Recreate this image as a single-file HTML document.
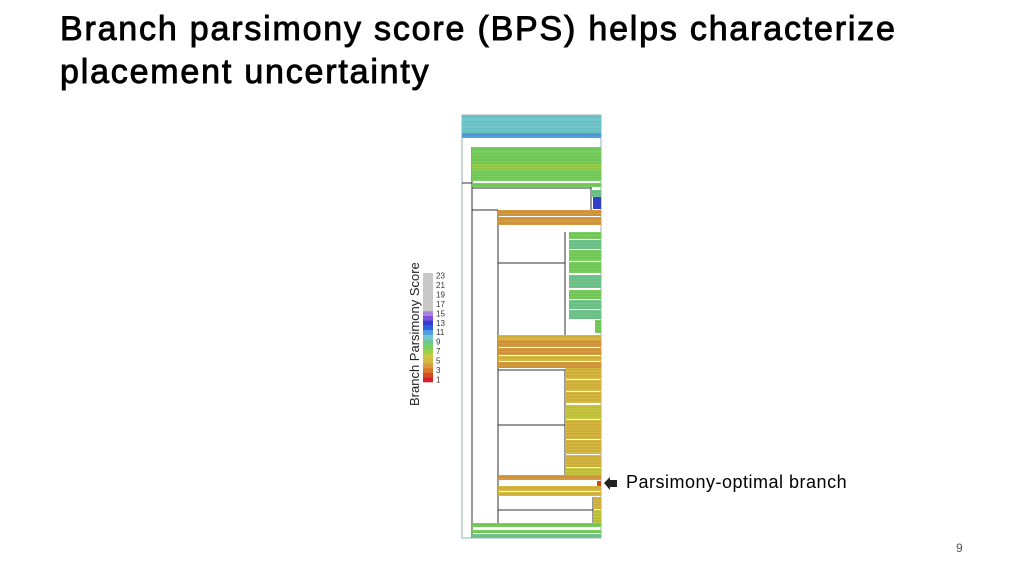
<!DOCTYPE html>
<html><head><meta charset="utf-8"><style>
body{margin:0;width:1024px;height:576px;background:#fff;overflow:hidden;font-family:"Liberation Sans",sans-serif}
h1{position:absolute;left:60px;top:8px;margin:0;font-size:34px;font-weight:normal;line-height:43px;letter-spacing:1.8px;color:#000;-webkit-text-stroke:0.9px #000}
#pn{position:absolute;left:956px;top:541px;font-size:12px;color:#555}
#lab{position:absolute;left:626px;top:472px;font-size:18px;color:#000;letter-spacing:0.5px}
</style></head><body>
<h1>Branch parsimony score (BPS) helps characterize<br>placement uncertainty</h1>
<div id="lab">Parsimony-optimal branch</div>
<div id="pn">9</div>
<svg id="s" width="1024" height="576" style="position:absolute;left:0;top:0"></svg>
<script>
// bands: y0, y1, x0 (start of colored band), score
const bandY0=[115,120,127,133,147,152,158,164,170,176,183,190,197,210,217,221,232,240,250,262,275,290,300,310,320,335,340,348,356,362,368,380,392,405,420,440,455,468,475,481,486,492,497,510,523,530,534];
const bandY1=[119,126,132,137,151,157,163,169,175,180,186,196,208,215,220,224,238,248,260,272,287,298,308,318,332,339,346,354,360,367,378,390,402,418,438,453,466,474,479,485,490,495,508,522,526,532,537];
const bandX0=[462,462,462,462,472,472,472,472,472,472,472,591,593,498,498,498,569,569,569,569,569,569,569,569,595,498,498,498,498,498,565,565,565,565,565,565,565,565,498,597,498,498,593,593,472,472,472];
const bandScore=[10,10,10,11,8,8,8,7,8,8,8,9,13,4,4,4,8,9,8,8,9,8,9,9,8,5,4,4,5,4,5,5,5,6,5,5,5,6,4,2,5,5,5,6,8,8,9];
const legendTicks=[23,21,19,17,15,13,11,9,7,5,3,1];
function color(s){
  if(s>=16) return '#c8c8c8';
  const c=['#d8202a','#d84a20','#d87a2a','#d89a40','#d8b840','#c8c840','#98d048','#78d060','#70c890','#70c8d0','#50a0e0','#3060e0','#3040d0','#8050e0','#b080e0'];
  return c[Math.max(0,Math.min(14,s-1))];
}
const svg=document.getElementById('s');const NS='http://www.w3.org/2000/svg';
function el(t,a){const e=document.createElementNS(NS,t);for(const k in a)e.setAttribute(k,a[k]);svg.appendChild(e);return e;}
let r=el('rect',{x:462,y:115,width:139,height:423,fill:'#fff',stroke:'#9ab',"stroke-width":1});


const skel=[[462,183,472,183],[472,147,472,538],[472,210,498,210],[498,210,498,525],[498,263,565,263],[565,232,565,335],[498,370,565,370],[565,370,565,475],[498,425,565,425],[472,525,601,525],[498,510,593,510],[593,497,593,523],[472,188,591,188],[591,183,591,210]];
skel.forEach(l=>{const e=el('line',{x1:l[0],y1:l[1],x2:l[2],y2:l[3],stroke:'#333',"stroke-width":1});

});
bandY0.forEach((y,i)=>{
  const h=bandY1[i]-y+1;
  const b=el('rect',{x:bandX0[i],y:y,width:601-bandX0[i],height:h,fill:color(bandScore[i])});
  
  
  for(let k=y+2;k<y+h;k+=3){el('line',{x1:bandX0[i],y1:k,x2:601,y2:k,stroke:'rgba(60,60,0,0.3)',"stroke-width":0.6});}
});
const ar=el('polygon',{points:'604,483 610,477 610,480 617,480 617,487 610,487 610,490',fill:'#222'});


const cbTop=273,cbBot=382,n=23;
for(let s=1;s<=n;s++){
  const y=cbBot-(s)*(cbBot-cbTop)/n;
  const c=el('rect',{x:423,y:y,width:10,height:(cbBot-cbTop)/n+0.3,fill:color(s)});
  
  
}
legendTicks.forEach(t=>{
  const y=cbBot-(t-0.5)*(cbBot-cbTop)/n+3;
  const tx=el('text',{x:436,y:y,"font-size":8,fill:'#333'});tx.textContent=t;
  
  
});
const tt=el('text',{x:0,y:0,"font-size":13,fill:'#222',transform:'translate(419,406) rotate(-90)'});
tt.textContent='Branch Parsimony Score';


</script>
</body></html>
